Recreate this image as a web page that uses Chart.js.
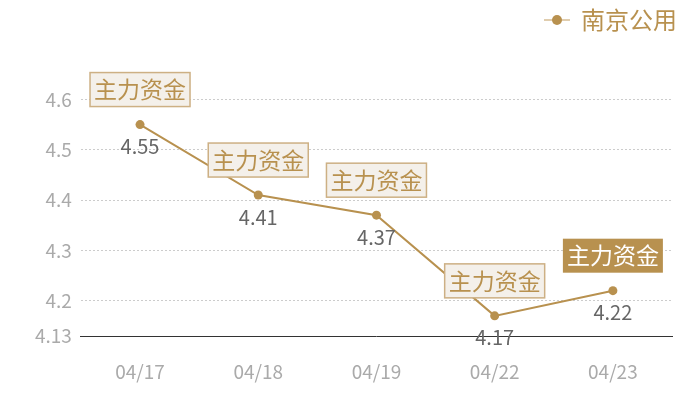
<!DOCTYPE html>
<html lang="zh">
<head>
  <meta charset="UTF-8">
  <title>南京公用</title>
  <script src="https://cdn.jsdelivr.net/npm/chart.js"></script>
  <style>
    html, body { margin: 0; padding: 0; background: #fff; }
    #wrap { width: 700px; height: 400px; }
  </style>
</head>
<body>
<div id="wrap"><canvas id="chart" width="700" height="400"></canvas></div>
<script>
// data
const dates = ["04/17", "04/18", "04/19", "04/22", "04/23"];
const prices = [4.55, 4.41, 4.37, 4.17, 4.22];
const tags = ["主力资金", "主力资金", "主力资金", "主力资金", "主力资金"];
const tagFilled = [false, false, false, false, true];
const yTicks = [4.13, 4.2, 4.3, 4.4, 4.5, 4.6];

const gold = "#b8914f";
const font = "'Noto Sans CJK SC', 'Noto Sans', sans-serif";

// legend marker: short line with a dot
const marker = document.createElement("canvas");
marker.width = 26; marker.height = 12;
(function () {
  const c = marker.getContext("2d");
  c.strokeStyle = "#d6bd93"; c.lineWidth = 1.5;
  c.beginPath(); c.moveTo(0, 6); c.lineTo(26, 6); c.stroke();
  c.fillStyle = gold;
  c.beginPath(); c.arc(13, 6, 5, 0, Math.PI * 2); c.fill();
})();

// value labels and "主力资金" tags
const labelPlugin = {
  id: "labels",
  afterDatasetsDraw(chart) {
    const ctx = chart.ctx;
    const meta = chart.getDatasetMeta(0);
    ctx.save();
    meta.data.forEach((pt, i) => {
      // value under the point
      ctx.font = "20px " + font;
      ctx.fillStyle = "#666";
      ctx.textAlign = "center";
      ctx.textBaseline = "middle";
      ctx.fillText(prices[i].toFixed(2), pt.x, pt.y + 22);

      // tag box above the point
      ctx.font = "23px " + font;
      const w = 100, h = 34;
      const bx = pt.x - w / 2, by = pt.y - 35 - h / 2;
      if (tagFilled[i]) {
        ctx.fillStyle = gold;
        ctx.fillRect(bx, by, w, h);
        ctx.fillStyle = "#fff";
      } else {
        ctx.fillStyle = "#f4f0ea";
        ctx.fillRect(bx, by, w, h);
        ctx.strokeStyle = "#cdb084";
        ctx.lineWidth = 1.5;
        ctx.strokeRect(bx, by, w, h);
        ctx.fillStyle = gold;
      }
      ctx.fillText(tags[i], pt.x, pt.y - 35);
    });
    ctx.restore();
  }
};

new Chart(document.getElementById("chart"), {
  type: "line",
  data: {
    labels: dates,
    datasets: [{
      label: "南京公用",
      data: prices,
      borderColor: gold,
      backgroundColor: gold,
      borderWidth: 2,
      pointRadius: 4.5,
      pointBackgroundColor: gold,
      pointBorderWidth: 0,
      tension: 0,
      pointStyle: "circle"
    }]
  },
  options: {
    responsive: false,
    animation: false,
    layout: { padding: { left: 26, right: 15, top: 0, bottom: 0 } },
    plugins: {
      legend: {
        position: "top",
        align: "end",
        labels: {
          usePointStyle: true,
          pointStyle: marker,
          color: gold,
          font: { size: 24, family: font },
          padding: 8,
          generateLabels(chart) {
            return [{ text: "南京公用", pointStyle: marker, fontColor: gold, datasetIndex: 0, lineWidth: 0 }];
          }
        }
      },
      tooltip: { enabled: false }
    },
    scales: {
      x: {
        offset: true,
        grid: { display: false, drawTicks: false },
        border: { display: true, color: "#333", width: 1 },
        ticks: { color: "#aaa", font: { size: 19, family: font }, padding: 24 },
        afterFit(axis) { axis.height = 64; }
      },
      y: {
        min: 4.13,
        max: 4.714,
        afterBuildTicks(axis) { axis.ticks = yTicks.map(v => ({ value: v })); },
        grid: {
          color: (c) => c.tick && c.tick.value === 4.13 ? "rgba(0,0,0,0)" : "#ccc",
          drawTicks: false
        },
        border: { display: false, dash: [2, 2] },
        ticks: {
          color: "#aaa",
          font: { size: 19, family: font },
          padding: 9,
          callback: (v) => String(v)
        }
      },
      // empty right-hand spacer so the plot ends before the legend edge
      yRight: {
        position: "right",
        display: true,
        grid: { display: false, drawTicks: false },
        border: { display: false },
        ticks: { display: false },
        afterFit(axis) { axis.width = 13; }
      }
    }
  },
  plugins: [labelPlugin]
});
</script>
</body>
</html>
